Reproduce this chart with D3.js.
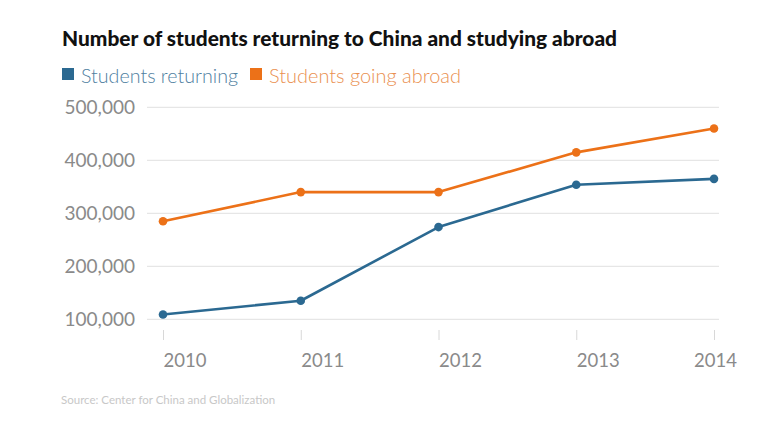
<!DOCTYPE html>
<html><head><meta charset="utf-8">
<script src="https://cdn.jsdelivr.net/npm/d3@7"></script>
<style>
html,body{margin:0;padding:0;background:#fff;}
svg{display:block;}
</style></head>
<body>
<script>
const years = ["2010","2011","2012","2013","2014"];
const returning = [109000, 135000, 274000, 354000, 365000];
const abroad = [285000, 340000, 340000, 415000, 460000];
const yTicks = [100000, 200000, 300000, 400000, 500000];
const seriesNames = ["Students returning", "Students going abroad"];
const colors = ["#2b6991", "#ec7118"];
const title = "Number of students returning to China and studying abroad";
const source = "Source: Center for China and Globalization";

const W = 770, H = 433;
const svg = d3.select("body").append("svg").attr("width", W).attr("height", H);

const x = d3.scalePoint().domain(years).range([163, 714]);
const y = d3.scaleLinear().domain([100000, 500000]).range([319.3, 107.3]);

// title
const t = svg.append("text").attr("x", 62).attr("y", 46)
  .attr("font-family", "Lato, 'Open Sans', sans-serif").attr("font-weight", 900)
  .attr("font-size", 20.5).attr("fill", "#111").text(title);
t.attr("textLength", 555).attr("lengthAdjust", "spacingAndGlyphs");

// legend
const legX = [62, 250];
seriesNames.forEach((n, i) => {
  svg.append("rect").attr("x", legX[i]).attr("y", 68).attr("width", 12).attr("height", 12).attr("fill", colors[i]);
  const lt = svg.append("text").attr("x", legX[i] + 19).attr("y", 82.5)
    .attr("font-family", "Lato, sans-serif").attr("font-weight", 300)
    .attr("font-size", 19).attr("fill", i === 0 ? "#4f809f" : "#ea9050").text(n);
  lt.attr("textLength", i === 0 ? 157 : 192).attr("lengthAdjust", "spacingAndGlyphs");
});

// grid
const grid = svg.append("g");
grid.selectAll("line").data(yTicks).join("line")
  .attr("x1", 147).attr("x2", 719)
  .attr("y1", d => y(d)).attr("y2", d => y(d))
  .attr("stroke", "#e6e6e6").attr("stroke-width", 1.3);

// y axis labels
const yAxis = d3.axisLeft(y).tickValues(yTicks).tickSize(0).tickPadding(0)
  .tickFormat(d3.format(","));
const ga = svg.append("g").attr("transform", "translate(135,0)").call(yAxis);
ga.select(".domain").remove();
ga.selectAll("text").attr("font-family", "Lato, sans-serif").attr("font-size", 19)
  .attr("fill", "#8a8a8a").attr("dy", "0.35em");

// x axis
const xAxis = d3.axisBottom(x).tickSize(0).tickPadding(0);
const gx = svg.append("g").attr("transform", "translate(0,330)").call(xAxis);
gx.select(".domain").remove();
gx.selectAll(".tick line").attr("y2", 10).attr("stroke", "#d8d8d8").attr("stroke-width", 1);
gx.selectAll(".tick text").attr("font-family", "Lato, sans-serif").attr("font-size", 18.5)
  .attr("fill", "#8a8a8a").attr("y", 36.5).attr("dy", 0)
  .attr("text-anchor", (d, i) => i === years.length - 1 ? "middle" : "start")
  .attr("x", (d, i) => i === years.length - 1 ? 1 : 0);

// lines
const data = [returning, abroad];
const line = d3.line().x((d, i) => x(years[i])).y(d => y(d));
data.forEach((s, k) => {
  svg.append("path").datum(s).attr("d", line).attr("fill", "none")
    .attr("stroke", colors[k]).attr("stroke-width", 2.6).attr("stroke-linejoin", "round");
  svg.append("g").selectAll("circle").data(s).join("circle")
    .attr("cx", (d, i) => x(years[i])).attr("cy", d => y(d)).attr("r", 4.3)
    .attr("fill", colors[k]);
});

// source
svg.append("text").attr("x", 61).attr("y", 404)
  .attr("font-family", "Lato, sans-serif").attr("font-size", 11.5)
  .attr("fill", "#c8c8c8").text(source);
</script>
</body></html>
